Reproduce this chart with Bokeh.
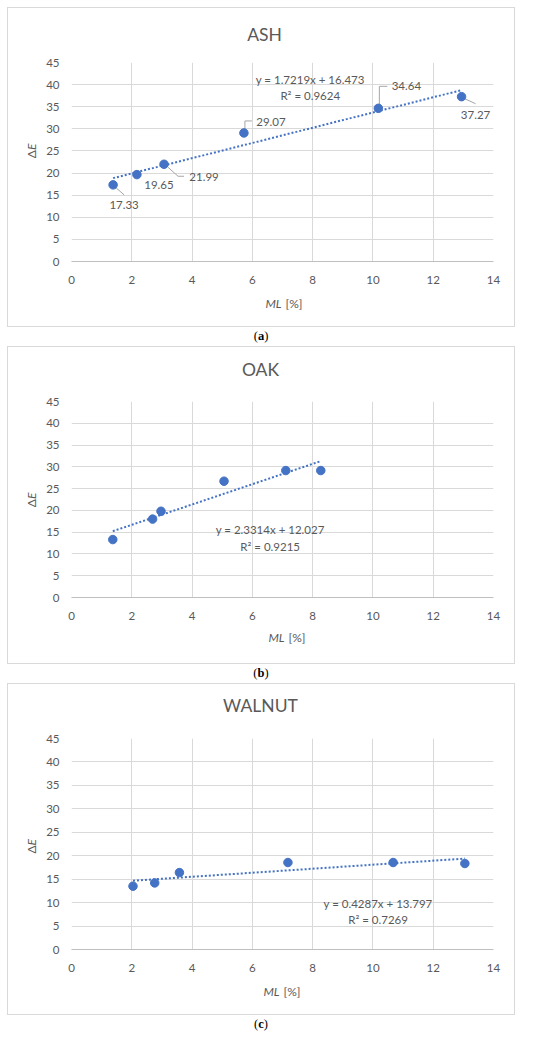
import math
from bokeh.plotting import figure
from bokeh.models import Range1d, FixedTicker, Label, Div
from bokeh.layouts import column
from bokeh.core.properties import value
from bokeh.embed import file_html
from bokeh.resources import INLINE

# ---------------- data ----------------
x_ticks = [0, 2, 4, 6, 8, 10, 12, 14]
y_ticks = [0, 5, 10, 15, 20, 25, 30, 35, 40, 45]

ash_ml = [1.38, 2.17, 3.07, 5.72, 10.18, 12.94]
ash_de = [17.33, 19.65, 21.99, 29.07, 34.64, 37.27]
ash_labels = ["17.33", "19.65", "21.99", "29.07", "34.64", "37.27"]
ash_fit = [1.7219, 16.473]
ash_r2 = "0.9624"

oak_ml = [1.37, 2.69, 2.97, 5.06, 7.11, 8.27]
oak_de = [13.3, 18.0, 19.8, 26.7, 29.15, 29.15]
oak_fit = [2.3314, 12.027]
oak_r2 = "0.9215"

wal_ml = [2.04, 2.76, 3.58, 7.18, 10.67, 13.05]
wal_de = [13.5, 14.2, 16.4, 18.55, 18.55, 18.34]
wal_fit = [0.4287, 13.797]
wal_r2 = "0.7269"

# ---------------- style ----------------
BLUE = "#4472C4"
GREY_TXT = "#595959"
GRID = "#d9d9d9"
FONT = "Lato"
FRAME_W = 422
BOX_W = 508
M_LEFT, M_TOP = 63, 54


def make_panel(title, xs, ys, fit, r2, frame_h, box_h, title_dx, title_dy, ylab_y,
               xlab_dx, xlab_dy, eq_x, eq_y1, eq_y2, labels=None,
               lbl_off=None, leaders=None):
    p = figure(width=BOX_W, height=box_h,
               x_range=Range1d(0, 14), y_range=Range1d(0, 45),
               output_backend="svg", toolbar_location=None,
               min_border_left=M_LEFT, min_border_right=BOX_W - M_LEFT - FRAME_W,
               min_border_top=M_TOP, min_border_bottom=box_h - M_TOP - frame_h,
               background_fill_color="white", border_fill_color=None,
               outline_line_color=None)
    p.styles = {"border": "1px solid #d9d9d9"}

    for ax in (p.xaxis[0], p.yaxis[0]):
        ax.major_tick_line_color = None
        ax.minor_tick_line_color = None
        ax.major_tick_out = 0
        ax.major_tick_in = 0
        ax.major_label_text_color = GREY_TXT
        ax.major_label_text_font = FONT
        ax.major_label_text_font_size = "11.5px"
    p.xaxis.ticker = FixedTicker(ticks=x_ticks)
    p.yaxis.ticker = FixedTicker(ticks=y_ticks)
    p.xaxis.axis_line_color = "#bfbfbf"
    p.yaxis.axis_line_color = None
    p.xaxis.major_label_standoff = 14
    p.yaxis.major_label_standoff = 12
    p.xgrid.ticker = FixedTicker(ticks=x_ticks)
    p.ygrid.ticker = FixedTicker(ticks=y_ticks)
    p.xgrid.grid_line_color = GRID
    p.ygrid.grid_line_color = GRID

    sx = FRAME_W / 14.0
    sy = frame_h / 45.0

    # trendline from coefficients
    tx = [min(xs), max(xs)]
    ty = [fit[0] * v + fit[1] for v in tx]
    p.line(tx, ty, line_color=BLUE, line_width=2, line_dash="2 2")

    # leader lines & data labels
    if labels is not None:
        lx, ly = [], []
        for x0, y0, lead in zip(xs, ys, leaders):
            if lead:
                lx.append([x0 + dx / sx for dx, dy in lead])
                ly.append([y0 - dy / sy for dx, dy in lead])
        p.multi_line(lx, ly, line_color="#a6a6a6", line_width=1)
        tx2 = [x0 + o[0] / sx for x0, o in zip(xs, lbl_off)]
        ty2 = [y0 - o[1] / sy for y0, o in zip(ys, lbl_off)]
        p.text(tx2, ty2, text=labels, text_align="center", text_baseline="middle",
               text_color=GREY_TXT, text_font=value(FONT), text_font_size="11.5px")

    p.scatter(xs, ys, size=8.5, fill_color=BLUE, line_color=BLUE)

    # title (in the side panel so it is not clipped to the frame)
    p.add_layout(Label(x=7, y=45, x_offset=title_dx, y_offset=title_dy, text=title,
                       text_align="center", text_baseline="middle",
                       text_font=FONT, text_font_size="17.5px", text_color=GREY_TXT), "above")
    # equation
    p.add_layout(Label(x=eq_x, y=eq_y1, text=f"y = {fit[0]}x + {fit[1]}",
                       text_align="center", text_baseline="middle",
                       text_font=FONT, text_font_size="11.5px", text_color=GREY_TXT))
    p.add_layout(Label(x=eq_x, y=eq_y2, text=f"R\u00b2 = {r2}",
                       text_align="center", text_baseline="middle",
                       text_font=FONT, text_font_size="11.5px", text_color=GREY_TXT))
    # x axis label: ML (italic) [%]
    p.add_layout(Label(x=7, y=0, x_offset=xlab_dx - 1, y_offset=xlab_dy, text="ML",
                       text_align="right", text_baseline="middle", text_font_style="italic",
                       text_font=FONT, text_font_size="12px", text_color=GREY_TXT), "below")
    p.add_layout(Label(x=7, y=0, x_offset=xlab_dx + 3, y_offset=xlab_dy, text="[%]",
                       text_align="left", text_baseline="middle",
                       text_font=FONT, text_font_size="12px", text_color=GREY_TXT), "below")
    # y axis label: Δ E(italic)
    p.add_layout(Label(x=0, y=ylab_y, x_offset=-40, angle=math.pi / 2, text="\u0394",
                       text_align="right", text_baseline="middle",
                       text_font=FONT, text_font_size="12px", text_color=GREY_TXT), "left")
    p.add_layout(Label(x=0, y=ylab_y, x_offset=-40, angle=math.pi / 2, text="E",
                       text_align="left", text_baseline="middle", text_font_style="italic",
                       text_font=FONT, text_font_size="12px", text_color=GREY_TXT), "left")
    return p


def caption(letter, h):
    return Div(text=f"(<b>{letter}</b>)", width=BOX_W, height=h, margin=(0, 0, 0, 0),
               styles={"text-align": "center", "font-family": "'Liberation Serif', serif",
                       "font-size": "12.5px", "color": "#000", "line-height": "18px"})


p1 = make_panel("ASH", ash_ml, ash_de, ash_fit, ash_r2, 199, 320, -18, 28, 25.2, 0, -42,
                7.92, 41.2, 37.45, labels=ash_labels,
                lbl_off=[(11, 20), (22, 10), (40, 13), (27, -11), (28, -22), (14, 18)],
                leaders=[[(3, 3), (11, 10)], None, [(4, 3), (14, 12), (20, 12)],
                         [(1, -4), (1, -12), (8, -12)], [(1, -4), (1, -22), (9, -22)],
                         [(3, 2), (14, 7)]])
p2 = make_panel("OAK", oak_ml, oak_de, oak_fit, oak_r2, 196, 318, -22, 32, 22.6, 3, -40,
                6.59, 15.54, 11.78)
p3 = make_panel("WALNUT", wal_ml, wal_de, wal_fit, wal_r2, 211, 332, -22, 33, 22.2, -2, -42,
                10.17, 9.9, 6.48)

layout = column(p1, caption("a", 19), p2, caption("b", 19), p3, caption("c", 20),
                spacing=0, margin=(7, 0, 0, 7))

open("out.html", "w").write(file_html(layout, INLINE))
